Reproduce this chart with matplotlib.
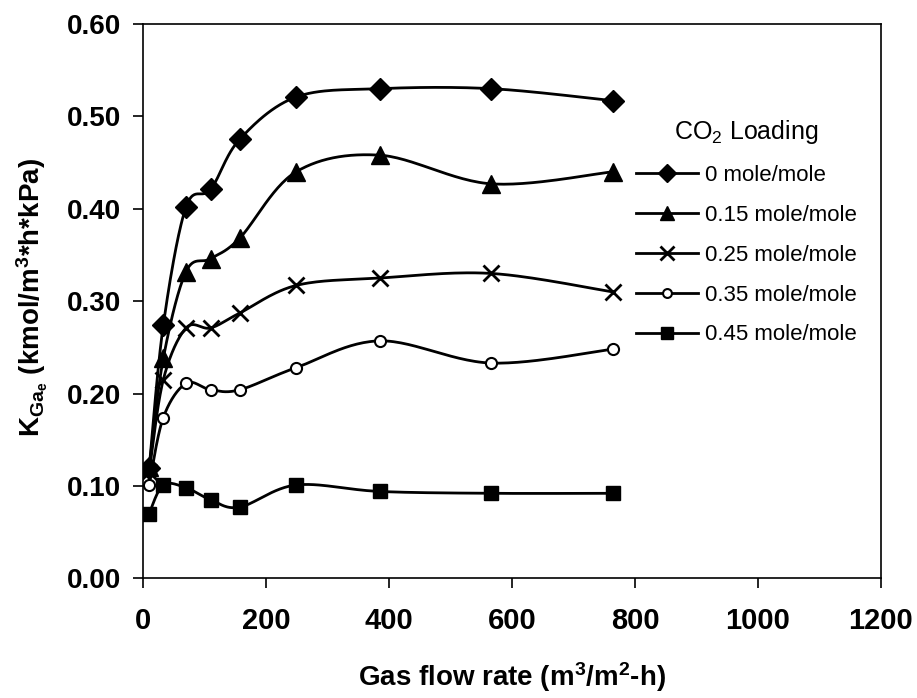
import numpy as np
import matplotlib
matplotlib.use("Agg")
import matplotlib.pyplot as plt

plt.rcParams['font.family'] = ['Liberation Sans', 'DejaVu Sans']
plt.rcParams['mathtext.fontset'] = 'custom'
plt.rcParams['mathtext.rm'] = 'Liberation Sans'
plt.rcParams['mathtext.bf'] = 'Liberation Sans:bold'
plt.rcParams['mathtext.it'] = 'Liberation Sans:italic'

gas_flow = [10, 33, 70, 110, 157, 249, 385, 566, 764]
kga_0 = [0.119, 0.274, 0.402, 0.421, 0.475, 0.521, 0.530, 0.530, 0.517]
kga_015 = [0.120, 0.238, 0.332, 0.346, 0.368, 0.440, 0.458, 0.427, 0.440]
kga_025 = [0.115, 0.215, 0.271, 0.271, 0.287, 0.317, 0.325, 0.330, 0.310]
kga_035 = [0.101, 0.174, 0.211, 0.204, 0.204, 0.228, 0.257, 0.233, 0.248]
kga_045 = [0.070, 0.101, 0.098, 0.085, 0.077, 0.101, 0.094, 0.092, 0.092]
labels = ['0 mole/mole', '0.15 mole/mole', '0.25 mole/mole', '0.35 mole/mole', '0.45 mole/mole']
x_ticks = [0, 200, 400, 600, 800, 1000, 1200]
y_ticks = [0.0, 0.1, 0.2, 0.3, 0.4, 0.5, 0.6]

series = [kga_0, kga_015, kga_025, kga_035, kga_045]
styles = [
    dict(marker='D', ms=11, mfc='black', mec='black'),
    dict(marker='^', ms=13, mfc='black', mec='black'),
    dict(marker='x', ms=12, mfc='black', mec='black', mew=2),
    dict(marker='o', ms=8, mfc='white', mec='black', mew=1.5),
    dict(marker='s', ms=10, mfc='black', mec='black'),
]

fig = plt.figure(figsize=(9.17, 6.98), dpi=100)
ax = fig.add_axes([143/917, 1 - 578.3/698, (881-143)/917, (578.3-24)/698])
ax.set_xlim(0, 1200)
ax.set_ylim(0, 0.6)


def smooth_curve(ax, x, y, n=30):
    pts = ax.transData.transform(np.column_stack([x, y]))
    P = np.vstack([pts[0], pts, pts[-1]])
    out = []
    t = np.linspace(0, 1, n)[:, None]
    for i in range(1, len(P) - 2):
        p0, p1, p2, p3 = P[i - 1], P[i], P[i + 1], P[i + 2]
        c1 = p1 + (p2 - p0) / 6.0
        c2 = p2 - (p3 - p1) / 6.0
        seg = ((1 - t) ** 3) * p1 + 3 * ((1 - t) ** 2) * t * c1 + 3 * (1 - t) * t ** 2 * c2 + t ** 3 * p2
        out.append(seg if i == 1 else seg[1:])
    curve = np.vstack(out)
    return ax.transData.inverted().transform(curve)


handles = []
for vals, st, lab in zip(series, styles, labels):
    c = smooth_curve(ax, gas_flow, vals)
    ax.plot(c[:, 0], c[:, 1], color='black', lw=2, zorder=2)
    ax.plot(gas_flow, vals, ls='none', zorder=3, **st)
    h, = ax.plot([], [], color='black', lw=2, **st)
    h.set_label(lab)
    handles.append(h)

ax.set_xticks(x_ticks)
ax.set_xticklabels([str(v) for v in x_ticks])
ax.set_yticks(y_ticks)
ax.set_yticklabels([f'{v:.2f}' for v in y_ticks])
ax.tick_params(axis='both', direction='out', length=7, width=1.2)
ax.tick_params(axis='x', labelsize=21, pad=14)
ax.tick_params(axis='y', labelsize=20, pad=9)
for lab in ax.get_xticklabels() + ax.get_yticklabels():
    lab.set_fontweight('bold')
for sp in ax.spines.values():
    sp.set_linewidth(1.2)

ax.set_xlabel('Gas flow rate (m$^\\mathbf{3}$/m$^\\mathbf{2}$-h)', fontsize=20, fontweight='bold')
ax.xaxis.set_label_coords(0.5, (578.3 - 660) / 554.3)
ax.set_ylabel('K$_{\\mathbf{Ga_e}}$ (kmol/m$^\\mathbf{3}$*h*kPa)', fontsize=20, fontweight='bold')
ax.yaxis.set_label_coords((50 - 143) / 738, (578.3 - 298) / 554.3)

leg = ax.legend(handles=handles, loc='upper left', bbox_to_anchor=(636/917, 1 - 118/698),
                bbox_transform=fig.transFigure, frameon=False, fontsize=16,
                title='CO$_2$ Loading', title_fontsize=18, handlelength=2.8,
                markerscale=0.8, labelspacing=0.85, handletextpad=0.3, borderaxespad=0,
                borderpad=0)

fig.savefig('out.png', dpi=100)
